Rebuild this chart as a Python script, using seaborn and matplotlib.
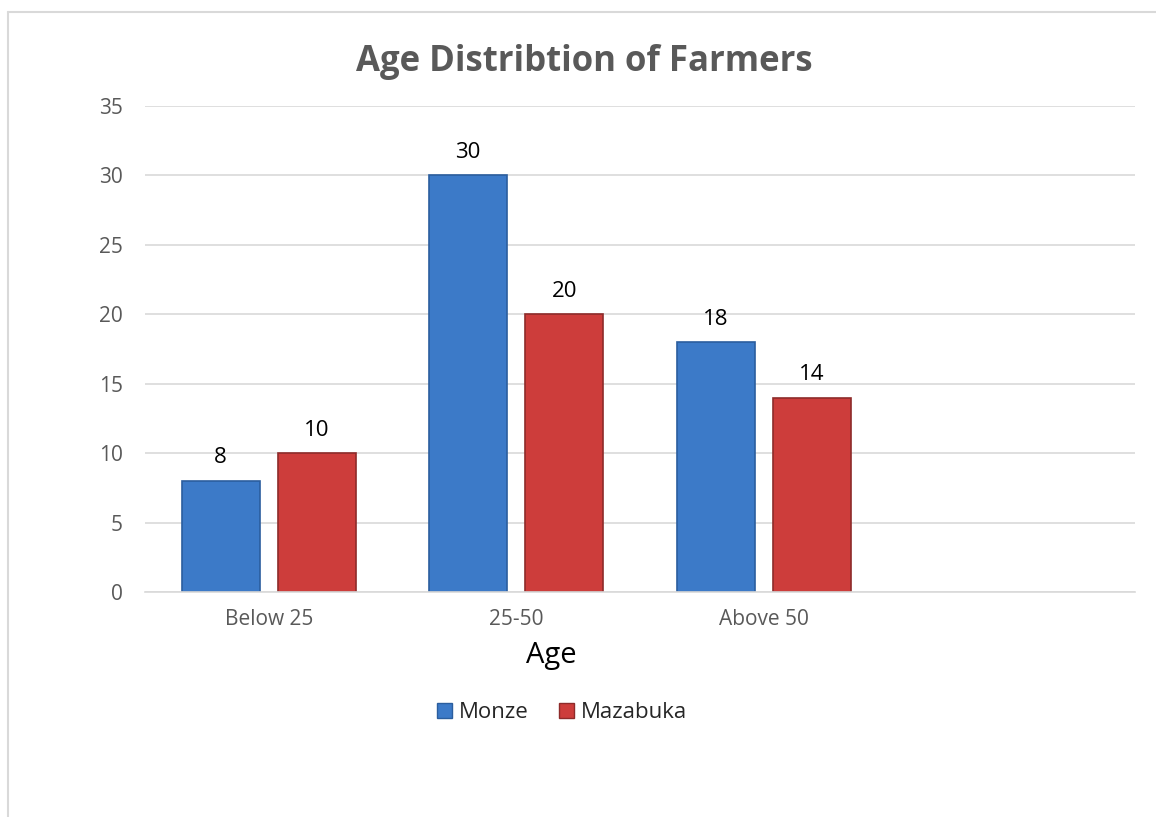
import matplotlib
matplotlib.use("Agg")
import matplotlib.pyplot as plt
import seaborn as sns
import pandas as pd
from matplotlib.lines import Line2D
from matplotlib.patches import Patch

categories = ["Below 25", "25-50", "Above 50"]
monze = [8, 30, 18]
mazabuka = [10, 20, 14]
series_names = ["Monze", "Mazabuka"]
yticks = [0, 5, 10, 15, 20, 25, 30, 35]

df = pd.DataFrame({
    "Age": categories * 2,
    "Count": monze + mazabuka,
    "District": [series_names[0]] * 3 + [series_names[1]] * 3,
})

sns.set_theme(style="white")
plt.rcParams["font.family"] = ["Open Sans", "DejaVu Sans"]

blue = "#3C7AC8"
red = "#CD3D3B"

fig = plt.figure(figsize=(11.56, 8.17), dpi=100)
ax = fig.add_axes([145 / 1156, 1 - 592 / 817, 990 / 1156, 486 / 817])

order = categories + [" "]
sns.barplot(data=df, x="Age", y="Count", hue="District", order=order,
            hue_order=series_names, palette=[blue, red], width=0.776, gap=0.19,
            ax=ax, legend=False, saturation=1)

edge_cols = ["#2B5E9E", "#8E2B2A"]
for cont, ec in zip(ax.containers, edge_cols):
    for p in cont:
        p.set_edgecolor(ec)
        p.set_linewidth(1.2)
    ax.bar_label(cont, padding=9, fontsize=16, color="black")

ax.set_xlim(-0.5, 3.5)
ax.set_ylim(0, 35)
ax.set_yticks(yticks)
ax.yaxis.grid(True, color="#D9D9D9", linewidth=1.2)
ax.set_axisbelow(True)
for s in ["top", "right", "left"]:
    ax.spines[s].set_visible(False)
ax.spines["bottom"].set_color("#D9D9D9")
ax.spines["bottom"].set_linewidth(1.2)
ax.tick_params(axis="both", length=0, labelsize=15, colors="#595959")
ax.tick_params(axis="x", pad=12)
ax.tick_params(axis="y", pad=16)
ax.set_xlabel("Age", fontsize=21, color="black")
ax.xaxis.label.set_va("center")
ax.xaxis.set_label_coords((551 - 145) / 990, -(655 - 592) / 486)
ax.set_ylabel("")

fig.text(584 / 1156, 1 - 62 / 817, "Age Distribtion of Farmers", ha="center",
         va="center", fontsize=25, fontweight="bold", color="#595959")

handles = [Patch(facecolor=blue, edgecolor=edge_cols[0]),
           Patch(facecolor=red, edgecolor=edge_cols[1])]
fig.legend(handles, series_names, loc="center", bbox_to_anchor=(562 / 1156, 1 - 713 / 817),
           ncol=2, frameon=False, fontsize=16, handlelength=0.65, handleheight=0.65,
           handletextpad=0.3, columnspacing=1.4)

# chart frame
fig.add_artist(Line2D([8 / 1156, 8 / 1156], [0, 1 - 12 / 817], color="#D9D9D9", lw=1.5))
fig.add_artist(Line2D([8 / 1156, 1], [1 - 12 / 817, 1 - 12 / 817], color="#D9D9D9", lw=1.5))

fig.savefig("out.png", dpi=100)
